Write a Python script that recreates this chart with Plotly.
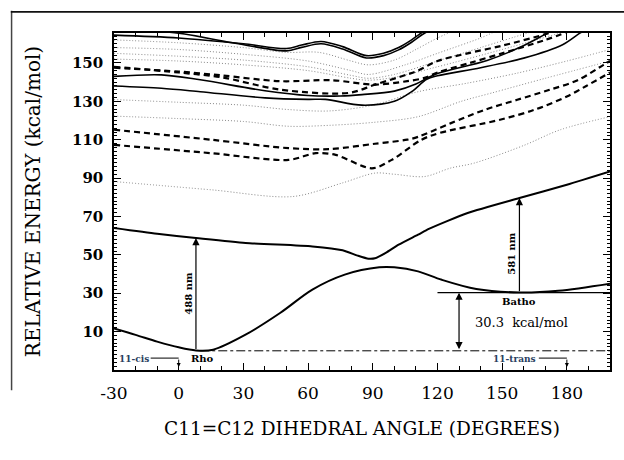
import plotly.graph_objects as go

# ---------------- data ----------------
# ground state S0
S0_x = [-30, -20, -10, 0, 8, 16, 31, 47, 62, 77, 93, 100, 111, 122, 138, 158, 176, 200]
S0_y = [11.6, 8.3, 4.8, 1.8, 0.2, 0.6, 8.4, 19.7, 31.9, 39.7, 43.5, 43.5, 41.4, 37, 32.2, 30.4, 31.3, 35]
# first excited state S1
S1_x = [-30, -10, 8, 31, 62, 76, 83, 88, 91, 96, 102, 111, 116, 134, 158, 180, 200]
S1_y = [64, 61, 58.8, 56.2, 54.4, 52.4, 49.6, 48, 48.2, 51, 55.3, 60.5, 63.5, 71.8, 79.6, 86.5, 93.4]
# top double solid pair
T1_x = [-30, 0, 30, 50, 57, 66, 76, 87, 95, 102, 108, 113, 118]
T1_y = [164.5, 163, 160, 157.5, 159.3, 161.2, 158.5, 153.8, 155, 158, 162, 166, 169]
T2_x = [-30, 0, 25, 50, 57, 66, 76, 87, 95, 102, 108, 113, 118]
T2_y = [168, 165.5, 160.5, 156.3, 158.1, 160.0, 157.3, 152.6, 153.8, 156.8, 160.8, 164.8, 168]
# middle solid pair
Ea_x = [-30, -8, 10, 40, 60, 75, 85, 100, 110, 115, 120, 143, 158, 170, 175]
Ea_y = [143, 143.8, 141.2, 135.5, 133, 132.8, 133.5, 135.3, 139, 142, 144.5, 151.3, 158, 165, 168]
Eb_x = [-30, -8, 10, 40, 60, 68, 85, 100, 108, 115, 120, 140, 160, 178, 186, 190]
Eb_y = [138, 136.8, 135, 131.8, 131, 131, 128, 130, 135, 141.5, 143.3, 147.5, 152.5, 159.5, 165.5, 168]
# upper dashed pair
D1_x = [-30, 0, 20, 47, 71, 91, 106, 114, 120, 135, 150, 170, 180]
D1_y = [147.5, 145.5, 143.5, 140.5, 141, 138.7, 140.5, 142.2, 145, 150, 155, 162, 166]
D2_x = [-30, 0, 20, 47, 79, 91, 106, 111, 120, 134, 150, 170, 175]
D2_y = [148, 145, 142.5, 136.1, 134.4, 138.7, 144, 146, 151, 155, 159, 165, 167]
# lower dashed pair
A_x = [-30, 15, 51, 70, 91, 106, 111, 126, 142, 157, 172, 185, 197, 200]
A_y = [115.2, 110, 105.6, 105.1, 107.9, 110, 111.5, 118.5, 125.6, 130.8, 136, 141, 149, 151]
B_x = [-30, 15, 51, 63.6, 72.8, 89.6, 98.8, 112.6, 121, 149, 165, 180, 189, 200]
B_y = [107.3, 103, 99.5, 103, 102.1, 95.1, 99.5, 110, 113.5, 120.4, 125.6, 132.5, 138, 145]
# dotted states
G3_x = [-30, 0, 30, 50, 65, 80, 88, 100, 110, 120, 126]
G3_y = [162, 160.5, 158, 155.5, 155.5, 151, 149, 151.5, 157, 163, 166]
G8_x = [-30, 0, 30, 60, 80, 88, 105, 120, 140, 146]
G8_y = [158, 157, 154.5, 151, 146, 144, 149, 155, 163, 166]
G1_x = [-30, 0, 30, 60, 80, 88, 100, 120, 140, 160, 163]
G1_y = [155, 153.5, 151.5, 148, 143.5, 142, 144, 151, 158, 165, 166]
G2_x = [-30, 0, 30, 60, 80, 88, 100, 120, 150, 175, 178]
G2_y = [152, 151, 149, 146, 142, 141, 142.5, 148, 157, 165, 166]
G5_x = [-30, 0, 30, 51, 70, 90, 111, 134, 157, 180, 200]
G5_y = [130.9, 129.5, 128, 125.7, 125, 128, 135, 139.5, 144.7, 151, 157]
G6_x = [-30, 0, 30, 51, 70, 90, 111, 131, 145, 170, 200]
G6_y = [122.3, 121, 119.5, 117, 117.5, 119, 122, 130, 134.3, 142, 151]
G7_x = [-30, 15, 53, 76, 91, 100, 114, 126, 137, 160, 177, 200]
G7_y = [88.2, 83.9, 80.4, 87.5, 92.6, 92, 90.8, 95.2, 97.8, 107, 115.2, 122]

# reference levels / annotations
BASE_x = [10, 200]
BASE_y = [0, 0]
BATHO_x = [120, 200]
BATHO_y = [30.3, 30.3]
RHO_ANGLE, RHO_E, RHO_S1 = 8, 0.2, 58.8
BATHO_ANGLE, BATHO_E, BATHO_S1 = 158, 30.3, 79.6
GAP_ANGLE = 130

X_TICKS = [-30, 0, 30, 60, 90, 120, 150, 180]
X_TICKTEXT = ["-30", "0", "30", "60", "90", "120", "150", "180"]
Y_TICKS = [10, 30, 50, 70, 90, 110, 130, 150]
Y_TICKTEXT = ["10", "30", "50", "70", "90", "110", "130", "150"]

SERIF = "DejaVu Serif"

fig = go.Figure()


def add(x, y, dash="solid", width=1.8, color="black", smooth=0.9):
    fig.add_trace(go.Scatter(
        x=x, y=y, mode="lines", showlegend=False, hoverinfo="skip",
        line=dict(color=color, width=width, dash=dash, shape="spline", smoothing=smooth)))


DOT = dict(dash="1px,2px", width=1, color="#888")
for gx, gy in [(G3_x, G3_y), (G8_x, G8_y), (G1_x, G1_y), (G2_x, G2_y),
               (G5_x, G5_y), (G6_x, G6_y), (G7_x, G7_y)]:
    add(gx, gy, **DOT)

DASH = dict(dash="6px,4px", width=2.2, color="black")
for dx, dy in [(D1_x, D1_y), (D2_x, D2_y), (A_x, A_y), (B_x, B_y)]:
    add(dx, dy, **DASH)

for sx, sy in [(T1_x, T1_y), (T2_x, T2_y), (Ea_x, Ea_y), (Eb_x, Eb_y)]:
    add(sx, sy, width=1.6)

add(S1_x, S1_y, width=2, smooth=0.6)
add(S0_x, S0_y, width=2)

# baselines
fig.add_trace(go.Scatter(x=BASE_x, y=BASE_y, mode="lines", showlegend=False, hoverinfo="skip",
                         line=dict(color="black", width=1, dash="dashdot")))
fig.add_trace(go.Scatter(x=BATHO_x, y=BATHO_y, mode="lines", showlegend=False, hoverinfo="skip",
                         line=dict(color="black", width=1.2)))

ann = []
# vertical excitation arrows
ann.append(dict(x=RHO_ANGLE, y=RHO_S1, ax=RHO_ANGLE, ay=RHO_E, xref="x", yref="y", axref="x", ayref="y",
                showarrow=True, arrowhead=2, arrowsize=1.2, arrowwidth=1.2, arrowcolor="black", text=""))
ann.append(dict(x=BATHO_ANGLE, y=BATHO_S1, ax=BATHO_ANGLE, ay=BATHO_E, xref="x", yref="y", axref="x", ayref="y",
                showarrow=True, arrowhead=2, arrowsize=1.2, arrowwidth=1.2, arrowcolor="black", text=""))
# energy gap double arrow
ann.append(dict(x=GAP_ANGLE, y=BATHO_E, ax=GAP_ANGLE, ay=0, xref="x", yref="y", axref="x", ayref="y",
                showarrow=True, arrowhead=2, startarrowhead=2, arrowside="end+start", arrowsize=1.2,
                startarrowsize=1.2, arrowwidth=1.2, arrowcolor="black", text=""))
# small hooked arrows under 11-cis / 11-trans
ann.append(dict(x=0, y=-8.5, ax=0, ay=-3.8, xref="x", yref="y", axref="x", ayref="y",
                showarrow=True, arrowhead=2, arrowsize=0.8, arrowwidth=1, arrowcolor="black", text=""))
ann.append(dict(x=180, y=-8.5, ax=180, ay=-3.8, xref="x", yref="y", axref="x", ayref="y",
                showarrow=True, arrowhead=2, arrowsize=0.8, arrowwidth=1, arrowcolor="black", text=""))

TXT = dict(family=SERIF, size=10, color="black")
ann += [
    dict(x=4.5, y=30, text="<b>488 nm</b>", textangle=-90, showarrow=False, font=TXT, xref="x", yref="y"),
    dict(x=154.5, y=51, text="<b>581 nm</b>", textangle=-90, showarrow=False, font=TXT, xref="x", yref="y"),
    dict(x=158, y=25.8, text="<b>Batho</b>", showarrow=False, font=TXT, xref="x", yref="y"),
    dict(x=159, y=14.5, text="30.3  kcal/mol", showarrow=False,
         font=dict(family=SERIF, size=13, color="black"), xref="x", yref="y"),
    dict(x=11, y=-4.2, text="<b>Rho</b>", showarrow=False, font=TXT, xref="x", yref="y"),
    dict(x=-20.5, y=-4.2, text="<b>11-cis</b>", showarrow=False, font=dict(family=SERIF, size=9), xref="x", yref="y"),
    dict(x=155.5, y=-4.4, text="<b>11-trans</b>", showarrow=False, font=dict(family=SERIF, size=9), xref="x", yref="y"),
]

shapes = [
    dict(type="line", xref="x", yref="y", x0=-13, x1=0, y0=-3.8, y1=-3.8, line=dict(color="black", width=1)),
    dict(type="line", xref="x", yref="y", x0=167, x1=180, y0=-3.8, y1=-3.8, line=dict(color="black", width=1)),
    # scanned page frame (left and top edges)
    dict(type="rect", xref="paper", yref="paper", layer="above",
         x0=-0.208, x1=-0.205, y0=-0.06, y1=1.066, fillcolor="#444", line=dict(width=0)),
    dict(type="rect", xref="paper", yref="paper", layer="above",
         x0=-0.208, x1=1.03, y0=1.060, y1=1.065, fillcolor="#111", line=dict(width=0)),
]

axis_common = dict(
    showline=True, linecolor="black", linewidth=1.5, mirror="allticks",
    ticks="inside", tickcolor="black", tickwidth=1, showgrid=False, zeroline=False,
)

fig.update_layout(
    width=624, height=460,
    margin=dict(l=114, r=12, t=33, b=90),
    paper_bgcolor="white", plot_bgcolor="white",
    annotations=ann, shapes=shapes,
    xaxis=dict(
        range=[-30, 200], tickvals=X_TICKS, ticktext=X_TICKTEXT, ticklen=7,
        minor=dict(dtick=10, tick0=0, ticklen=4, ticks="inside", tickcolor="black"),
        tickfont=dict(family=SERIF, size=17, color="black"), ticklabelstandoff=7,
        title=dict(text="C11=C12 DIHEDRAL ANGLE (DEGREES)", standoff=20,
                   font=dict(family=SERIF, size=18.5, color="black")),
        **axis_common),
    yaxis=dict(
        range=[-10, 165.6], tickvals=Y_TICKS, ticktext=["<b>%s</b>" % t for t in Y_TICKTEXT], ticklen=7,
        minor=dict(dtick=2, tick0=0, ticklen=3, ticks="inside", tickcolor="black"),
        tickfont=dict(family=SERIF, size=15, color="black"), ticklabelstandoff=6,
        title=dict(text="RELATIVE ENERGY (kcal/mol)", standoff=26,
                   font=dict(family=SERIF, size=20, color="black")),
        **axis_common),
)

fig.write_html("out.html")
